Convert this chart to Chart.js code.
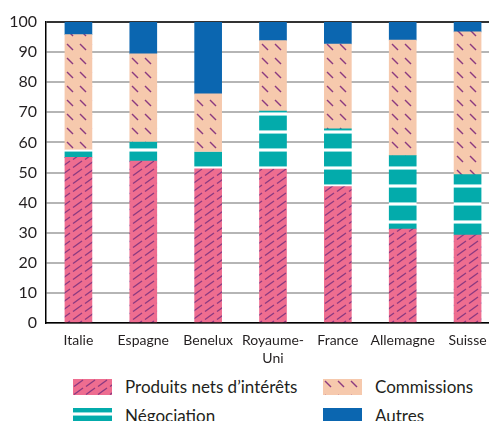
<!DOCTYPE html>
<html>
<head>
<meta charset="utf-8">
<script src="https://cdn.jsdelivr.net/npm/chart.js@4"></script>
<style>
html,body{margin:0;padding:0;background:#fff;overflow:hidden;width:489px;height:421px;}
#wrap{position:relative;width:500px;height:370px;}
#legend{position:absolute;left:0;top:376px;width:489px;font-family:Lato,"Open Sans",sans-serif;font-size:17px;color:#231f20;}
.item{position:absolute;display:flex;align-items:center;}
.item canvas{display:block;margin-right:13px;}
</style>
</head>
<body>
<div id="wrap"><canvas id="bankChart" width="500" height="370"></canvas></div>
<div id="legend"></div>
<script>
/* DATA */
const categories=["Italie","Espagne","Benelux",["Royaume-","Uni"],"France","Allemagne","Suisse"];
const produits=[55,53.8,51.2,51.1,45.3,31.2,29.2];
const negociation=[2.5,6.3,5.6,19.3,19.2,24.4,20.1];
const commissions=[38.3,29.3,19.3,23.4,28.2,38.4,47.4];
const autres=[4.2,10.6,23.9,6.2,7.3,6.0,3.3];
const yTicks=[0,10,20,30,40,50,60,70,80,90,100];

/* PATTERNS */
function makePattern(w,h,draw){
    let c=document.createElement("canvas");
    c.width=w; c.height=h;
    let g=c.getContext("2d");
    draw(g,w,h);
    return g.createPattern(c,"repeat");
}

const pinkFill=makePattern(12,8,(g,w,h)=>{
    g.fillStyle="#ee6d90"; g.fillRect(0,0,w,h);
    g.strokeStyle="#8b3a80"; g.lineWidth=1.3;
    g.beginPath(); g.moveTo(1,7.5); g.lineTo(10,1); g.stroke();
});

const peachFill=makePattern(13,14,(g,w,h)=>{
    g.fillStyle="#f6c9ad"; g.fillRect(0,0,w,h);
    g.strokeStyle="#8b3a80"; g.lineWidth=1.4;
    g.beginPath(); g.moveTo(2,2); g.lineTo(8,8); g.stroke();
});

const tealFill=makePattern(4,18,(g,w,h)=>{
    g.fillStyle="#03abab"; g.fillRect(0,0,w,h);
    g.fillStyle="#8fdcdc"; g.fillRect(0,4,w,1); g.fillRect(0,7,w,1);
    g.fillStyle="#ffffff"; g.fillRect(0,5,w,2);
});

const blueFill="#0b66b0";

/* CHART */
new Chart(
document.getElementById("bankChart"),
{
    type:"bar",
    data:{
        labels:categories,
        datasets:[
            {label:"Produits nets d\u2019intérêts",data:produits,backgroundColor:pinkFill},
            {label:"Négociation",data:negociation,backgroundColor:tealFill},
            {label:"Commissions",data:commissions,backgroundColor:peachFill},
            {label:"Autres",data:autres,backgroundColor:blueFill}
        ]
    },
    options:{
        responsive:false,
        animation:false,
        layout:{padding:{top:22,right:0,bottom:0,left:0}},
        datasets:{bar:{barThickness:27,borderWidth:0}},
        plugins:{legend:{display:false},tooltip:{enabled:false}},
        scales:{
            x:{
                stacked:true,
                grid:{display:false,drawTicks:false},
                border:{color:"#000",width:1.5},
                ticks:{color:"#231f20",padding:8,maxRotation:0,autoSkip:false,
                    font:{family:"Lato",size:14,lineHeight:1.32}},
                afterFit:scale=>{scale.height=47;}
            },
            y:{
                stacked:true,
                min:0,max:100,
                afterBuildTicks:scale=>{scale.ticks=yTicks.map(v=>({value:v}));},
                grid:{
                    drawTicks:false,
                    lineWidth:ctx=>ctx.tick&&ctx.tick.value===100?2:2,
                    color:ctx=>ctx.tick&&ctx.tick.value===100?"#333":"#b5b5b5"
                },
                border:{color:"#000",width:1.5},
                ticks:{color:"#231f20",padding:9,font:{family:"Lato",size:16}},
                afterFit:scale=>{scale.width=46;}
            }
        }
    }
}
);

/* LEGEND */
const legendItems=[
    {text:"Produits nets d\u2019intérêts",fill:pinkFill,left:73,top:0},
    {text:"Commissions",fill:peachFill,left:323,top:0},
    {text:"Négociation",fill:tealFill,left:73,top:29},
    {text:"Autres",fill:blueFill,left:323,top:29}
];

let legend=document.getElementById("legend");
legendItems.forEach(item=>{
    let div=document.createElement("div");
    div.className="item";
    div.style.left=item.left+"px";
    div.style.top=item.top+"px";
    let sw=document.createElement("canvas");
    sw.width=39; sw.height=16;
    let g=sw.getContext("2d");
    g.fillStyle=item.fill;
    g.fillRect(0,0,39,16);
    let span=document.createElement("span");
    span.textContent=item.text;
    div.appendChild(sw);
    div.appendChild(span);
    legend.appendChild(div);
});
</script>
</body>
</html>
